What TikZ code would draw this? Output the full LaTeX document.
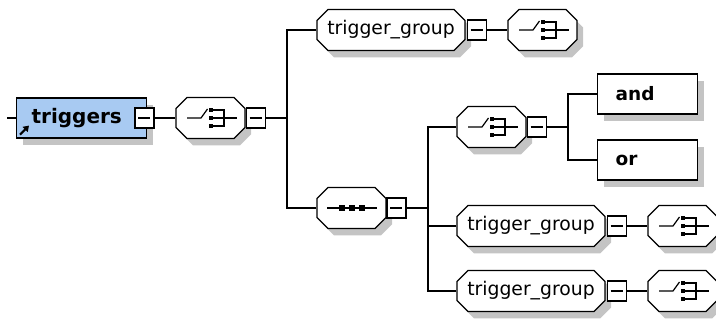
\documentclass[tikz,border=0pt]{standalone}
\usepackage{fontspec}
\setmainfont{DejaVu Sans}
\usetikzlibrary{shadows,arrows.meta}
\definecolor{elemblue}{RGB}{168,202,242}
\definecolor{shgray}{RGB}{196,196,196}
\tikzset{
  shad/.style={drop shadow={shadow xshift=6pt,shadow yshift=-7pt,fill=shgray,opacity=1,draw=none}},
  octlabel/.style={inner sep=0pt, minimum height=41pt},
  elem/.style={rectangle, draw, shad, inner ysep=0pt, minimum height=40pt, anchor=west},
  minusbox/.style={rectangle, draw, fill=white, minimum width=19pt, minimum height=20pt, inner sep=0pt,
    path picture={\draw[line width=1.2pt] ([xshift=3pt]path picture bounding box.west) -- ([xshift=-4pt]path picture bounding box.east);}},
  choicesym/.pic={
    \draw (-23.5,0) -- (-9.5,0) -- (-3,-9);
    \fill (-2,-10.2) rectangle (2.5,-5.7);
    \fill (-2,-2.2) rectangle (2.5,2.2);
    \fill (-2,5.7) rectangle (2.5,10.2);
    \draw (2.5,-8) -- (13.5,-8) -- (13.5,8) -- (2.5,8);
    \draw (2.5,0) -- (26.5,0);
  },
  seqsym/.pic={
    \draw (-24.5,0) -- (25.5,0);
    \foreach \q in {-10,0,10} {\fill (\q-3,-3) rectangle (\q+3,3);}
  }
}
\newcommand\grptext{\fontsize{18.8}{22}\selectfont trigger\_group}
% #1 name, #2 x, #3 y, #4 width, #5 text
\newcommand\myocto[5]{%
  \pgfmathsetmacro\oxa{#2-#4/2}\pgfmathsetmacro\oxb{#2+#4/2}%
  \pgfmathsetmacro\oya{#3-20.5}\pgfmathsetmacro\oyb{#3+20.5}%
  \fill[shgray,shift={(6,7)}] (\oxa+11,\oya) -- (\oxb-11,\oya) -- (\oxb,\oya+11) -- (\oxb,\oyb-11)
     -- (\oxb-11,\oyb) -- (\oxa+11,\oyb) -- (\oxa,\oyb-11) -- (\oxa,\oya+11) -- cycle;
  \draw[fill=white] (\oxa+11,\oya) -- (\oxb-11,\oya) -- (\oxb,\oya+11) -- (\oxb,\oyb-11)
     -- (\oxb-11,\oyb) -- (\oxa+11,\oyb) -- (\oxa,\oyb-11) -- (\oxa,\oya+11) -- cycle;
  \node[octlabel, minimum width=#4pt] (#1) at (#2,#3) {#5};
}
\begin{document}
\begin{tikzpicture}[x=1pt,y=-1pt,line width=1.2pt]
\useasboundingbox (0,0) rectangle (716,320);

% root element
\node[elem, fill=elemblue, minimum width=130pt, inner xsep=15pt, text width=100pt]
  (trig) at (16,118) {\fontsize{20}{24}\selectfont\bfseries triggers};
\draw[line width=2pt,-{Triangle[length=5.5pt,width=7pt]}]
  ([xshift=4pt,yshift=4pt]trig.south west) -- ++(9,-9);
\coordinate (lead) at (7,118);
\node[minusbox] (m0) at (144.5,118) {};
\draw (lead) -- (trig.west);

% first choice
\myocto{c1}{210.5}{118}{69}{}
\pic at (c1) {choicesym};
\node[minusbox] (m1) at (256,118) {};
\draw (m0.east) -- (c1.west);

% top trigger_group
\myocto{tg1}{391}{30}{148}{\grptext}
\node[minusbox] (m5) at (477,30) {};
\myocto{ct1}{542.5}{30}{69}{}
\pic at (ct1) {choicesym};
\draw (m5.east) -- (ct1.west);

% sequence
\myocto{seq}{351.5}{208}{69}{}
\pic at (seq) {seqsym};
\node[minusbox] (m3) at (396.5,208) {};

\coordinate (b1) at (287,118);
\draw (m1.east) -- (b1);
\draw (tg1.west) -| (b1) |- (seq.west);

% inner choice
\myocto{c2}{491.5}{127}{69}{}
\pic at (c2) {choicesym};
\node[minusbox] (m4) at (537,127) {};

\node[elem, fill=white, minimum width=100pt, inner xsep=18pt, text width=64pt]
  (and) at (597,94) {\fontsize{18.5}{22}\selectfont\bfseries and};
\node[elem, fill=white, minimum width=100pt, inner xsep=18pt, text width=64pt]
  (or) at (597,160) {\fontsize{18.5}{22}\selectfont\bfseries or};
\coordinate (b3) at (568,127);
\draw (m4.east) -- (b3);
\draw (and.west) -| (b3) |- (or.west);

% lower trigger_groups
\myocto{tg2}{531}{226}{148}{\grptext}
\node[minusbox] (m6) at (617,226) {};
\myocto{ct2}{682.5}{226}{69}{}
\pic at (ct2) {choicesym};
\draw (m6.east) -- (ct2.west);

\myocto{tg3}{531}{291}{148}{\grptext}
\node[minusbox] (m7) at (617,291) {};
\myocto{ct3}{682.5}{291}{69}{}
\pic at (ct3) {choicesym};
\draw (m7.east) -- (ct3.west);

\coordinate (b2) at (428,208);
\draw (m3.east) -- (b2);
\draw (c2.west) -| (b2) |- (tg3.west);
\draw (tg2.west) -- (tg2.west -| b2);
\end{tikzpicture}
\end{document}
